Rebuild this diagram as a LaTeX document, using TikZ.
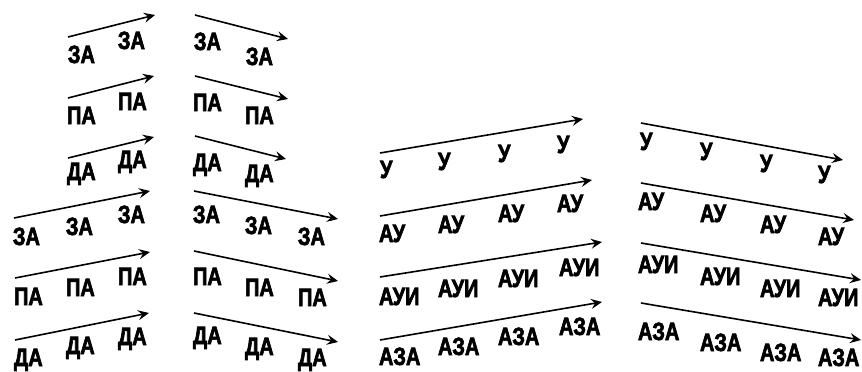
\documentclass[tikz,border=0pt]{standalone}
\usepackage{fontspec}
\newfontfamily\lab{Liberation Sans Bold}[FakeStretch=0.8, FakeBold=2.5]
\usetikzlibrary{arrows.meta}
\begin{document}
\begin{tikzpicture}[x=1pt,y=-1pt,
  lbl/.style={anchor=base west, inner sep=0pt, outer sep=0pt, font=\lab\fontsize{25}{25}\selectfont},
  arr/.style={line width=1.6pt, -{Stealth[length=11pt,width=10pt,inset=4pt]}}]
\useasboundingbox (0,0) rectangle (862,372);
% ---------- left group, rising ----------
\coordinate (a1s) at (68,37);  \coordinate (a1e) at (155,15);
\coordinate (a2s) at (68,98);  \coordinate (a2e) at (154,76);
\coordinate (a3s) at (68,158); \coordinate (a3e) at (154,137);
\coordinate (a4s) at (14,218); \coordinate (a4e) at (150,191);
\coordinate (a5s) at (15,278); \coordinate (a5e) at (150,252);
\coordinate (a6s) at (15,340); \coordinate (a6e) at (149,313);
\foreach \i in {1,...,6} {\draw[arr] (a\i s) -- (a\i e);}
\node[lbl] (a11) at (68,63) {ЗА};  \node[lbl] (a12) at (118,49) {ЗА};
\node[lbl] (a21) at (67,124) {ПА}; \node[lbl] (a22) at (118,110) {ПА};
\node[lbl] (a31) at (67,180) {ДА}; \node[lbl] (a32) at (118,168) {ДА};
\node[lbl] (a41) at (13,245) {ЗА}; \node[lbl] (a42) at (66,235) {ЗА}; \node[lbl] (a43) at (118,223) {ЗА};
\node[lbl] (a51) at (14,305) {ПА}; \node[lbl] (a52) at (66,296) {ПА}; \node[lbl] (a53) at (118,285) {ПА};
\node[lbl] (a61) at (14,366) {ДА}; \node[lbl] (a62) at (66,354) {ДА}; \node[lbl] (a63) at (118,345) {ДА};
% ---------- left group, falling ----------
\coordinate (b1s) at (195,15);  \coordinate (b1e) at (288,39);
\coordinate (b2s) at (195,76);  \coordinate (b2e) at (288,99);
\coordinate (b3s) at (195,136); \coordinate (b3e) at (286,159);
\coordinate (b4s) at (194,191); \coordinate (b4e) at (338,219);
\coordinate (b5s) at (194,251); \coordinate (b5e) at (338,281);
\coordinate (b6s) at (194,313); \coordinate (b6e) at (338,342);
\foreach \i in {1,...,6} {\draw[arr] (b\i s) -- (b\i e);}
\node[lbl] (b11) at (194,50) {ЗА};  \node[lbl] (b12) at (246,65) {ЗА};
\node[lbl] (b21) at (193,111) {ПА}; \node[lbl] (b22) at (245,124) {ПА};
\node[lbl] (b31) at (193,171) {ДА}; \node[lbl] (b32) at (245,182) {ДА};
\node[lbl] (b41) at (193,223) {ЗА}; \node[lbl] (b42) at (245,234) {ЗА}; \node[lbl] (b43) at (298,245) {ЗА};
\node[lbl] (b51) at (193,285) {ПА}; \node[lbl] (b52) at (245,296) {ПА}; \node[lbl] (b53) at (298,306) {ПА};
\node[lbl] (b61) at (193,344) {ДА}; \node[lbl] (b62) at (245,355) {ДА}; \node[lbl] (b63) at (298,366) {ДА};
% ---------- right group, rising ----------
\coordinate (c1s) at (380,153); \coordinate (c1e) at (583,119);
\coordinate (c2s) at (380,216); \coordinate (c2e) at (592,180);
\coordinate (c3s) at (380,277); \coordinate (c3e) at (602,242);
\coordinate (c4s) at (380,340); \coordinate (c4e) at (602,302);
\foreach \i in {1,...,4} {\draw[arr] (c\i s) -- (c\i e);}
\node[lbl] (c11) at (380,178) {У};   \node[lbl] (c12) at (438,170) {У};   \node[lbl] (c13) at (498,162) {У};   \node[lbl] (c14) at (557,153) {У};
\node[lbl] (c21) at (379,242) {АУ};  \node[lbl] (c22) at (438,233) {АУ};  \node[lbl] (c23) at (498,222) {АУ};  \node[lbl] (c24) at (557,212) {АУ};
\node[lbl] (c31) at (379,305) {АУИ}; \node[lbl] (c32) at (438,297) {АУИ}; \node[lbl] (c33) at (498,287) {АУИ}; \node[lbl] (c34) at (559,276) {АУИ};
\node[lbl] (c41) at (379,365) {АЗА}; \node[lbl] (c42) at (438,355) {АЗА}; \node[lbl] (c43) at (498,345) {АЗА}; \node[lbl] (c44) at (559,335) {АЗА};
% ---------- right group, falling ----------
\coordinate (d1s) at (641,123); \coordinate (d1e) at (843,160);
\coordinate (d2s) at (641,183); \coordinate (d2e) at (854,220);
\coordinate (d3s) at (641,243); \coordinate (d3e) at (861,280);
\coordinate (d4s) at (641,303); \coordinate (d4e) at (861,340);
\foreach \i in {1,...,4} {\draw[arr] (d\i s) -- (d\i e);}
\node[lbl] (d11) at (640,150) {У};   \node[lbl] (d12) at (700,160) {У};   \node[lbl] (d13) at (760,172) {У};   \node[lbl] (d14) at (818,183) {У};
\node[lbl] (d21) at (638,210) {АУ};  \node[lbl] (d22) at (700,222) {АУ};  \node[lbl] (d23) at (760,233) {АУ};  \node[lbl] (d24) at (818,245) {АУ};
\node[lbl] (d31) at (638,273) {АУИ}; \node[lbl] (d32) at (700,285) {АУИ}; \node[lbl] (d33) at (760,297) {АУИ}; \node[lbl] (d34) at (818,306) {АУИ};
\node[lbl] (d41) at (638,340) {АЗА}; \node[lbl] (d42) at (700,351) {АЗА}; \node[lbl] (d43) at (760,361) {АЗА}; \node[lbl] (d44) at (818,366) {АЗА};
\end{tikzpicture}
\end{document}
